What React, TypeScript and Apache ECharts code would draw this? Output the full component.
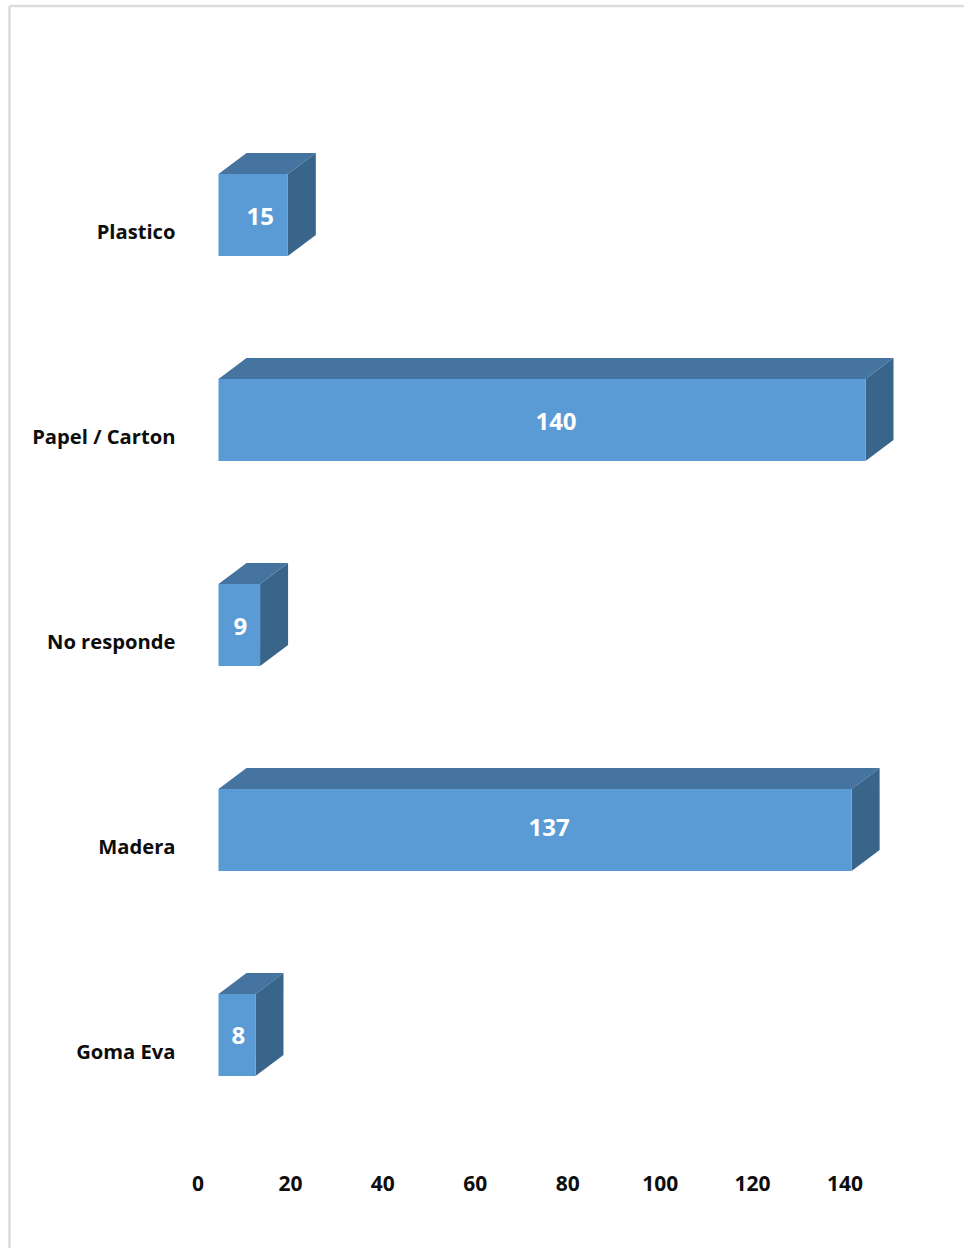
import React, { useEffect, useRef } from "react";
import * as echarts from "echarts";

// Materials, listed bottom to top as the category axis counts them.
const categories = ["Goma Eva", "Madera", "No responde", "Papel / Carton", "Plastico"];
const values = [8, 137, 9, 140, 15];
const valueTicks = { min: 0, max: 140, interval: 20 };

// Colours of the box faces.
const FRONT = "#5b9bd5";
const TOP = "#4674a0";
const SIDE = "#3a658a";

// Pseudo-3D projection: the front face sits off the axis, the depth recedes up and right.
const FRONT_DX = 20.5;
const FRONT_DY = -15.5;
const DEPTH_X = 28;
const DEPTH_Y = -21;
const BAR_RATIO = 0.4;

// Small horizontal and vertical placement tweaks of the value labels, per bar.
const labelDx = [1.5, 14, 1, 14, 7];
const labelDy = [-1, -3.5, 0, 0, 0];

const FONT = '"Open Sans", "Noto Sans", sans-serif';

function renderBox(params: any, api: any) {
  const value = api.value(0);
  const index = api.value(1);
  const start = api.coord([0, index]);
  const end = api.coord([value, index]);
  const h = api.size([0, 1])[1] * BAR_RATIO;
  const x0 = start[0] + FRONT_DX;
  const x1 = end[0] + FRONT_DX;
  const yTop = start[1] + FRONT_DY - h / 2;
  const yBot = yTop + h;
  return {
    type: "group",
    children: [
      {
        type: "polygon",
        shape: {
          points: [
            [x0, yTop],
            [x0 + DEPTH_X, yTop + DEPTH_Y],
            [x1 + DEPTH_X, yTop + DEPTH_Y],
            [x1, yTop],
          ],
        },
        style: { fill: TOP },
      },
      {
        type: "polygon",
        shape: {
          points: [
            [x1, yTop],
            [x1 + DEPTH_X, yTop + DEPTH_Y],
            [x1 + DEPTH_X, yBot + DEPTH_Y],
            [x1, yBot],
          ],
        },
        style: { fill: SIDE },
      },
      {
        type: "rect",
        shape: { x: x0, y: yTop, width: x1 - x0, height: h },
        style: { fill: FRONT },
      },
      {
        type: "text",
        style: {
          text: String(value),
          x: (x0 + x1) / 2 + labelDx[params.dataIndex],
          y: (yTop + yBot) / 2 + labelDy[params.dataIndex],
          align: "center",
          verticalAlign: "middle",
          fill: "#ffffff",
          font: `700 24px ${FONT}`,
        },
      },
    ],
  };
}

export default function App() {
  const ref = useRef<HTMLDivElement>(null);

  useEffect(() => {
    const chart = echarts.init(ref.current!, undefined, { renderer: "svg" });
    chart.setOption({
      animation: false,
      backgroundColor: "#ffffff",
      grid: { left: 198, top: 128, width: 647, height: 1025 },
      xAxis: {
        type: "value",
        ...valueTicks,
        axisLine: { show: false },
        axisTick: { show: false },
        splitLine: { show: false },
        axisLabel: {
          margin: 19,
          color: "#0d0d0d",
          fontFamily: FONT,
          fontSize: 21,
          fontWeight: 700,
        },
      },
      yAxis: {
        type: "category",
        data: categories,
        axisLine: { show: false },
        axisTick: { show: false },
        axisLabel: {
          margin: 22.5,
          color: "#0d0d0d",
          fontFamily: FONT,
          fontSize: 20.2,
          fontWeight: 700,
        },
      },
      graphic: [
        // Thin frame along the top and left of the chart area.
        {
          type: "line",
          silent: true,
          shape: { x1: 9.5, y1: 6, x2: 964, y2: 6 },
          style: { stroke: "#dcdcdc", lineWidth: 2.5 },
        },
        {
          type: "line",
          silent: true,
          shape: { x1: 9.5, y1: 6, x2: 9.5, y2: 1248 },
          style: { stroke: "#dcdcdc", lineWidth: 2.5 },
        },
      ],
      series: [
        {
          type: "custom",
          renderItem: renderBox,
          encode: { x: 0, y: 1 },
          clip: false,
          silent: true,
          data: values.map((v, i) => [v, i]),
        },
      ],
    });
    return () => chart.dispose();
  }, []);

  return (
    <div
      ref={ref}
      style={{ position: "absolute", left: 0, top: 0, width: 964, height: 1248 }}
    />
  );
}
